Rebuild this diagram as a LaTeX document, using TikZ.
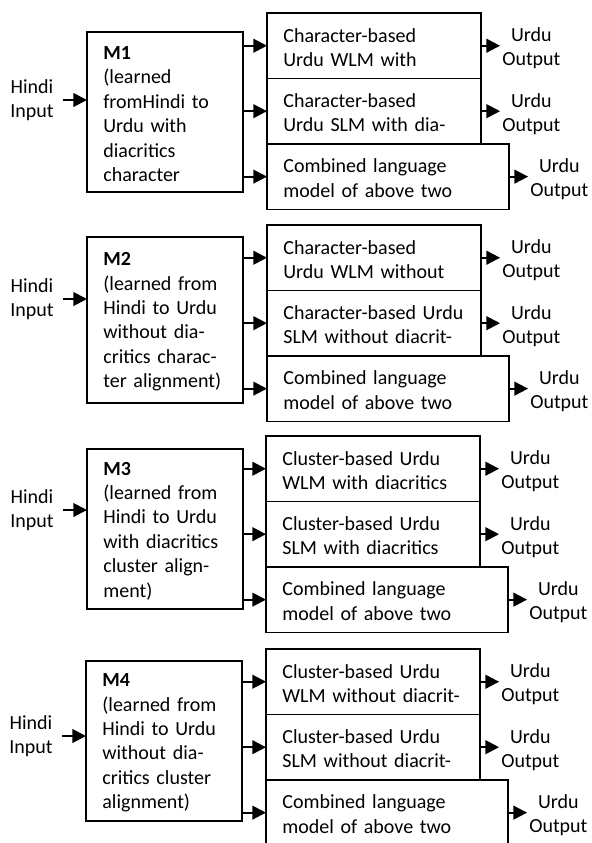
\documentclass[tikz,border=0pt]{standalone}
\usepackage{fontspec}
\setmainfont{Carlito}
\usepackage{tikz}
\usetikzlibrary{arrows.meta,positioning}
\tikzset{
  txt/.style={font=\fontsize{11pt}{13.4pt}\selectfont},
  mbox/.style={txt, draw, line width=0.75pt, outer sep=0pt, anchor=north west, align=left,
    inner xsep=9pt, text width=67.8pt, minimum width=85.8pt, minimum height=88pt,
    execute at begin node=\strut},
  lmbox/.style={mbox, text width=99.7pt, minimum width=117.7pt, minimum height=36pt},
  cmbox/.style={lmbox, text width=115.1pt, minimum width=133.1pt},
  io/.style={txt, align=center, inner sep=1pt},
  src/.style={io, inner xsep=5pt},
  arr/.style={-{Triangle[length=7.5pt,width=7.5pt]}, line width=1.1pt},
}
\begin{document}
\begin{tikzpicture}[x=0.55pt,y=-0.55pt]
\useasboundingbox (0,0) rectangle (591,843);
\clip (0,0) rectangle (591,843);

\node[mbox] (m1) at (87,32) {\textbf{M1}\\(learned\\fromHindi to\\Urdu with\\diacritics\\character};
\node[lmbox] (s11) at (267,13) {Character-based\\Urdu WLM with};
\node[lmbox, anchor=north west] (s12) at (s11.south west) {Character-based\\Urdu SLM with dia-};
\node[cmbox, anchor=north west] (s13) at (s12.south west) {Combined language\\model of above two};
\node[src] (in1) at (32,100) {Hindi\\Input};

\node[mbox, minimum height=91.3pt] (m2) at (87,237) {\textbf{M2}\\(learned from\\Hindi to Urdu\\without dia-\\critics charac-\\ter alignment)};
\node[lmbox] (s21) at (267,225) {Character-based\\Urdu WLM without};
\node[lmbox, anchor=north west] (s22) at (s21.south west) {Character-based Urdu\\SLM without diacrit-};
\node[cmbox, anchor=north west] (s23) at (s22.south west) {Combined language\\model of above two};
\node[src] (in2) at (32,299) {Hindi\\Input};

\node[mbox] (m3) at (87,449) {\textbf{M3}\\(learned from\\Hindi to Urdu\\with diacritics\\cluster align-\\ment)};
\node[lmbox] (s31) at (266,436) {Cluster-based Urdu\\WLM with diacritics};
\node[lmbox, anchor=north west] (s32) at (s31.south west) {Cluster-based Urdu\\SLM with diacritics};
\node[cmbox, anchor=north west] (s33) at (s32.south west) {Combined language\\model of above two};
\node[src] (in3) at (32,510) {Hindi\\Input};

\node[mbox] (m4) at (86,661) {\textbf{M4}\\(learned from\\Hindi to Urdu\\without dia-\\critics cluster\\alignment)};
\node[lmbox] (s41) at (266,649) {Cluster-based Urdu\\WLM without diacrit-};
\node[lmbox, anchor=north west] (s42) at (s41.south west) {Cluster-based Urdu\\SLM without diacrit-};
\node[cmbox, anchor=north west] (s43) at (s42.south west) {Combined language\\model of above two};
\node[src] (in4) at (31,736) {Hindi\\Input};

\foreach \i in {1,...,4} {
  \draw[arr] (in\i) -- (in\i -| m\i.west);
  \foreach \j in {1,2,3} {
    \node[io, right=10.5pt of s\i\j, yshift=-1.5pt] (o\i\j) {Urdu\\Output};
    \draw[arr] (s\i\j -| m\i.east) -- (s\i\j);
    \draw[arr] (s\i\j) -- (s\i\j -| o\i\j.west);
  }
}
\end{tikzpicture}
\end{document}
